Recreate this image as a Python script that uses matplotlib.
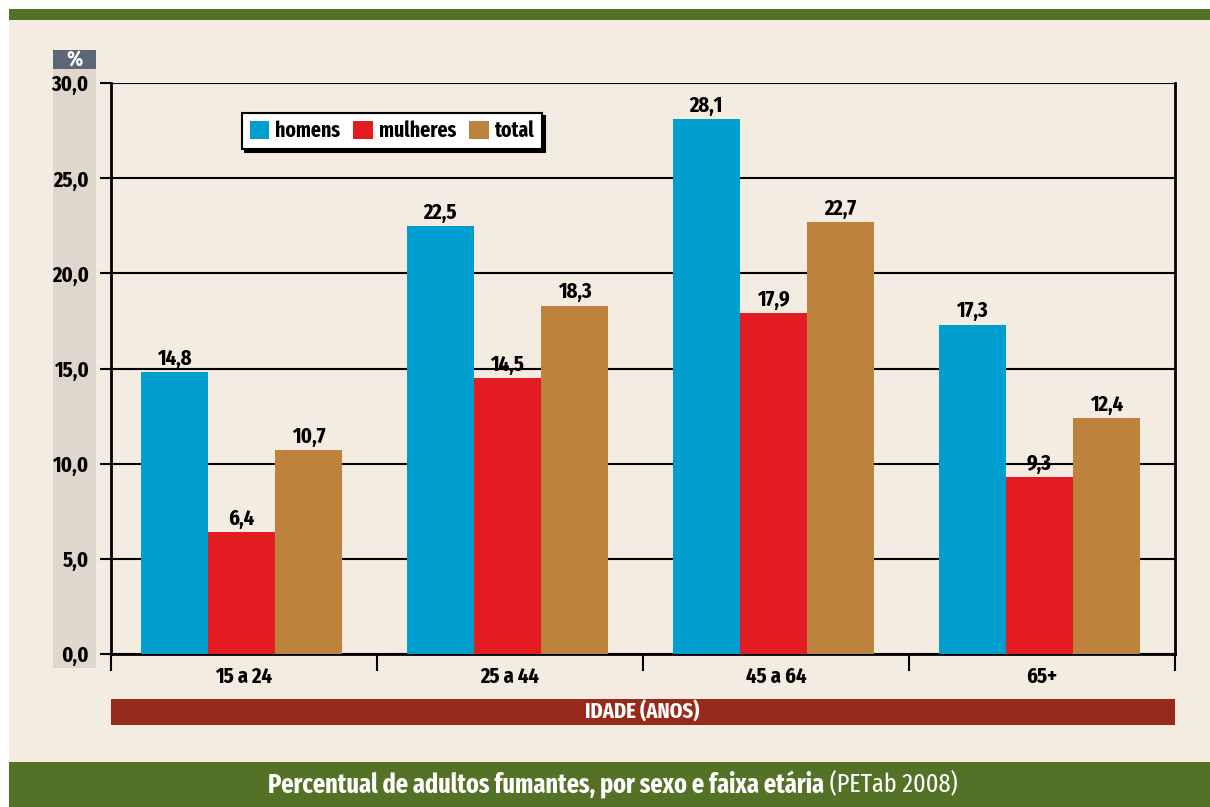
import numpy as np
import matplotlib
matplotlib.use("Agg")
import matplotlib.pyplot as plt
from matplotlib.patches import Rectangle

plt.rcParams['font.family'] = ['Fira Sans Extra Condensed', 'PT Sans Narrow', 'DejaVu Sans']

faixas = ["15 a 24", "25 a 44", "45 a 64", "65+"]
homens = [14.8, 22.5, 28.1, 17.3]
mulheres = [6.4, 14.5, 17.9, 9.3]
total = [10.7, 18.3, 22.7, 12.4]
series_names = ["homens", "mulheres", "total"]
colors = ["#009fcf", "#e31b23", "#bd823c"]

bg = "#f4ebe1"
green = "#547226"
W, H = 1210, 807

fig = plt.figure(figsize=(12.1, 8.07), dpi=100, facecolor="white")

def fx(px):
    return px / W

def fy(py):
    return 1 - py / H

# background panels
fig.patches.append(Rectangle((fx(9), 0), 1 - fx(9), fy(9), transform=fig.transFigure,
                             facecolor=bg, edgecolor="none", zorder=0))
fig.patches.append(Rectangle((fx(9), fy(20)), 1 - fx(9), fy(9) - fy(20), transform=fig.transFigure,
                             facecolor=green, edgecolor="none", zorder=1))
fig.patches.append(Rectangle((fx(9), 0), 1 - fx(9), fy(762), transform=fig.transFigure,
                             facecolor=green, edgecolor="none", zorder=1))
# grey y-label column and % header
fig.patches.append(Rectangle((fx(53), fy(668)), fx(43), fy(69) - fy(668), transform=fig.transFigure,
                             facecolor="#dfd6cc", edgecolor="none", zorder=1))
fig.patches.append(Rectangle((fx(53), fy(69)), fx(43), fy(50) - fy(69), transform=fig.transFigure,
                             facecolor="#5c6677", edgecolor="none", zorder=1))
fig.text(fx(74.5), fy(60), "%", color="white", fontsize=16, fontweight="bold",
         ha="center", va="center")

# x axis title bar
fig.patches.append(Rectangle((fx(111), fy(725)), fx(1064), fy(699) - fy(725), transform=fig.transFigure,
                             facecolor="#982a1b", edgecolor="none", zorder=1))
fig.text(fx(642), fy(712), "IDADE (ANOS)", color="white", fontsize=16, fontweight="bold",
         ha="center", va="center")

ax = fig.add_axes([fx(111), fy(654), fx(1064), fy(83) - fy(654)])
ax.set_zorder(2)
ax.set_facecolor("none")

x = np.arange(len(faixas))
bw = 0.252
for i, (name, vals, c) in enumerate(zip(series_names, [homens, mulheres, total], colors)):
    bars = ax.bar(x + (i - 1) * bw - 0.01, vals, bw, color=c, label=name, zorder=3)
    ax.bar_label(bars, labels=[f"{v:.1f}".replace(".", ",") for v in vals],
                 padding=2, fontsize=16, fontweight="bold")

ax.set_ylim(0, 30)
ax.set_xlim(-0.5, len(faixas) - 0.5)
yt = np.arange(0, 31, 5)
ax.set_yticks(yt)
ax.set_yticklabels([f"{v:.1f}".replace(".", ",") for v in yt], fontsize=16, fontweight="bold")
ax.yaxis.grid(True, color="black", linewidth=1.5, zorder=1)
ax.set_axisbelow(True)

ax.set_xticks(np.arange(-0.5, len(faixas)))
ax.set_xticklabels([])
ax.set_xticks(x, minor=True)
ax.set_xticklabels(faixas, minor=True, fontsize=16, fontweight="bold")
ax.tick_params(axis="x", which="major", length=12, width=1.5, direction="out")
ax.tick_params(axis="x", which="minor", length=0, pad=9)
ax.tick_params(axis="y", length=8, width=1.5, pad=8)

for s in ["left", "right", "bottom"]:
    ax.spines[s].set_linewidth(2)
ax.spines["top"].set_visible(False)

leg = ax.legend(loc="upper left", bbox_to_anchor=((242 - 111) / 1064, (654 - 113) / 571),
                ncol=3, frameon=True, fancybox=False, shadow={"color": "black", "alpha": 1},
                prop={"size": 15.5, "weight": "bold"}, handlelength=0.9, handleheight=0.9,
                handletextpad=0.3, columnspacing=0.6, borderpad=0.35, borderaxespad=0)
leg.get_frame().set_edgecolor("black")
leg.get_frame().set_linewidth(1.5)
leg.get_frame().set_facecolor("white")
leg.get_frame().set_alpha(1)

# bottom caption: bold part + normal part, centred together
fig.canvas.draw()
r = fig.canvas.get_renderer()
t1 = fig.text(0, fy(785), "Percentual de adultos fumantes, por sexo e faixa etária",
              color="white", fontsize=19, fontweight="bold", ha="left", va="center")
t2 = fig.text(0, fy(785), " (PETab 2008)", color="white", fontsize=19,
              ha="left", va="center")
w1 = t1.get_window_extent(r).width / W
w2 = t2.get_window_extent(r).width / W
start = fx(613) - (w1 + w2) / 2
t1.set_x(start)
t2.set_x(start + w1)

fig.savefig("out.png", dpi=100, facecolor="white")
